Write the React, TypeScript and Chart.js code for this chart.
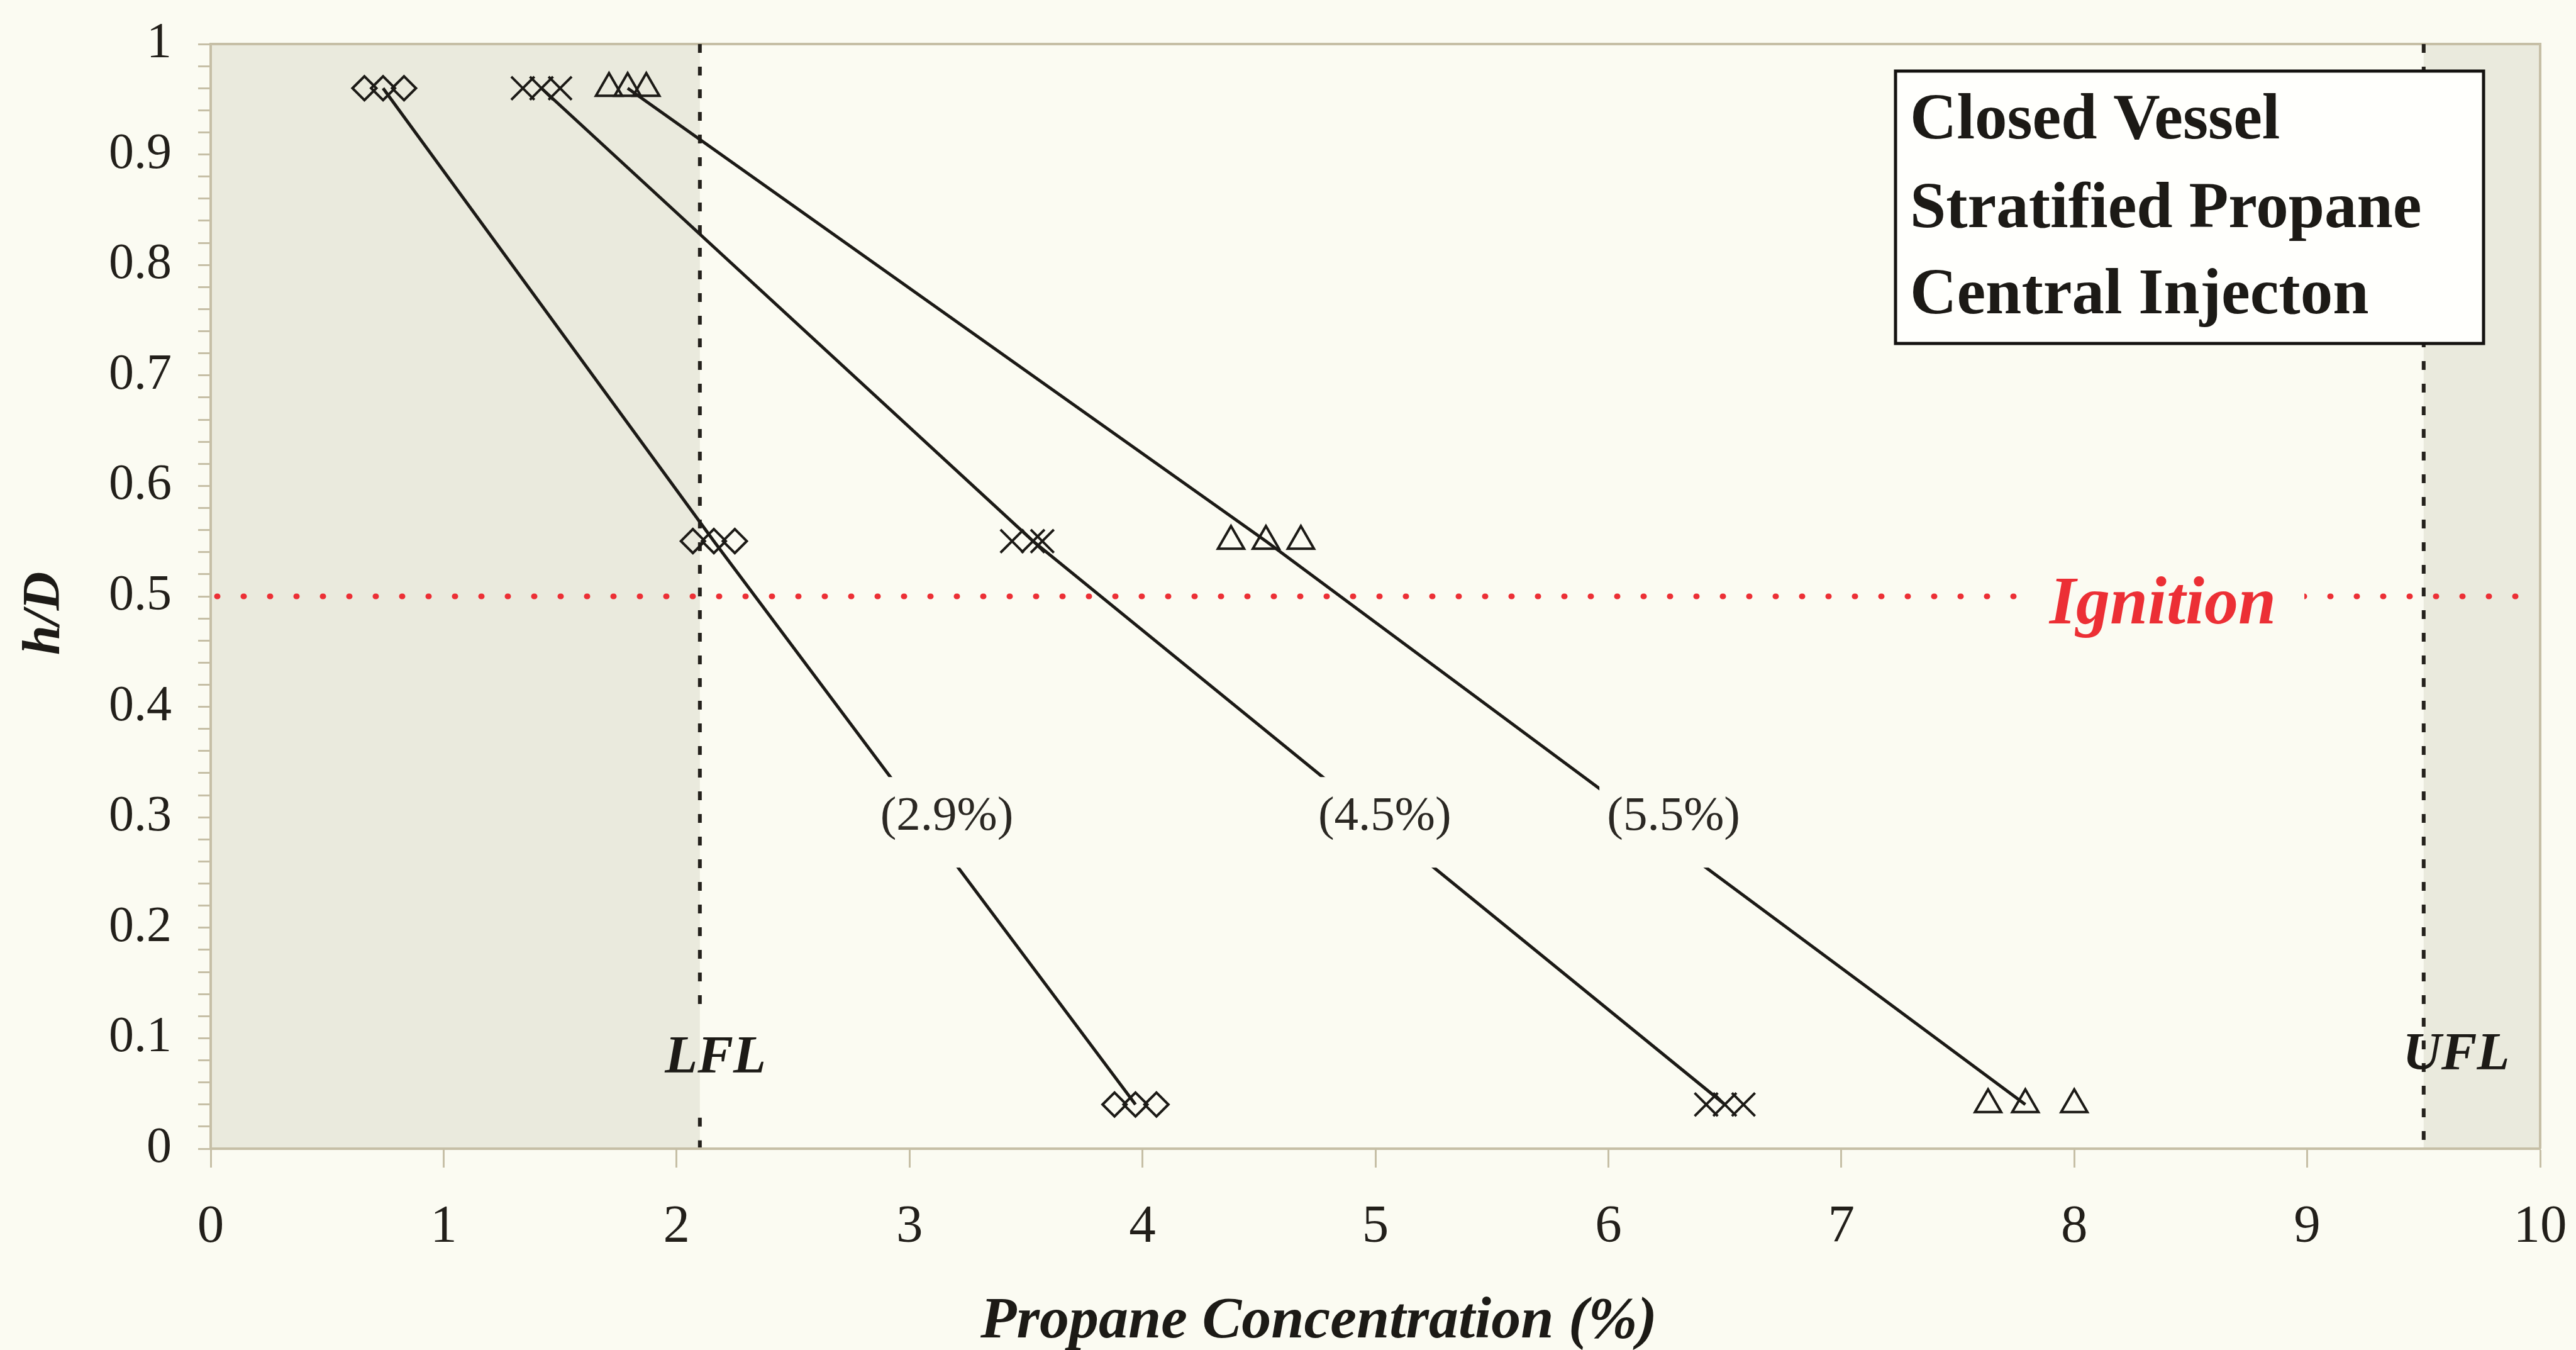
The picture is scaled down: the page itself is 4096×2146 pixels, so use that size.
import React, { useEffect, useRef } from 'react';
import { Chart, registerables } from 'chart.js';

Chart.register(...registerables);

// ---------- data ----------
const xTickValues = [0, 1, 2, 3, 4, 5, 6, 7, 8, 9, 10];
const yMajorTicks = [0, 0.1, 0.2, 0.3, 0.4, 0.5, 0.6, 0.7, 0.8, 0.9, 1];

// 2.9% mixture (diamonds)
const conc29 = [0.66, 0.74, 0.83, 2.07, 2.16, 2.25, 3.88, 3.97, 4.06];
const h29 = [0.96, 0.96, 0.96, 0.55, 0.55, 0.55, 0.04, 0.04, 0.04];
// 4.5% mixture (crosses)
const conc45 = [1.34, 1.42, 1.5, 3.44, 3.53, 3.57, 6.42, 6.5, 6.58];
const h45 = [0.96, 0.96, 0.96, 0.55, 0.55, 0.55, 0.04, 0.04, 0.04];
// 5.5% mixture (triangles)
const conc55 = [1.71, 1.79, 1.87, 4.38, 4.53, 4.68, 7.63, 7.79, 8.0];
const h55 = [0.96, 0.96, 0.96, 0.55, 0.55, 0.55, 0.04, 0.04, 0.04];

// lines through the mean values
const trendH = [0.96, 0.55, 0.04];
const trend29 = [0.74, 2.16, 3.97];
const trend45 = [1.42, 3.53, 6.5];
const trend55 = [1.79, 4.53, 7.79];

// in-line labels
const seriesLabels = ['(2.9%)', '(4.5%)', '(5.5%)'];
const seriesLabelX = [3.16, 5.04, 6.28];
const seriesLabelY = [0.3, 0.3, 0.3];

const LFL = 2.1;
const UFL = 9.5;
const IGNITION = 0.5;
const ignitionLabelX = 8.38;
const lflLabel = { text: 'LFL', x: 1.95, y: 0.069 };
const uflLabel = { text: 'UFL', x: 9.41, y: 0.072 };
const boxLines = ['Closed Vessel', 'Stratified Propane', 'Central Injecton'];
const xTitle = 'Propane Concentration (%)';
const yTitle = 'h/D';

// ---------- style ----------
const W = 4096;
const H = 2146;
const BG = '#fbfbf2';
const SHADE = '#eaeadd';
const AXIS = '#c6bfa6';
const INK = '#1c1a16';
const RED = '#ec2f35';
const SERIF = '"Liberation Serif", "Times New Roman", serif';

const pts = (xs: number[], ys: number[]) => xs.map((x, i) => ({ x, y: ys[i] }));

const zeroPad = (s: any) => {
  s.paddingLeft = 0;
  s.paddingRight = 0;
  s.paddingTop = 0;
  s.paddingBottom = 0;
};

const decorPlugin = {
  id: 'decor',
  beforeDraw(chart: any) {
    const { ctx, chartArea: a, scales } = chart;
    const x = scales.x;
    const y = scales.y;
    ctx.save();
    ctx.fillStyle = BG;
    ctx.fillRect(0, 0, chart.width, chart.height);

    const xl = x.getPixelForValue(LFL);
    const xu = x.getPixelForValue(UFL);
    ctx.fillStyle = SHADE;
    ctx.fillRect(a.left, a.top, xl - a.left, a.bottom - a.top);
    ctx.fillRect(xu, a.top, a.right - xu, a.bottom - a.top);

    // top and right frame
    ctx.strokeStyle = AXIS;
    ctx.lineWidth = 4;
    ctx.beginPath();
    ctx.moveTo(a.left, a.top);
    ctx.lineTo(a.right, a.top);
    ctx.lineTo(a.right, a.bottom);
    ctx.stroke();

    // ignition line
    const yi = y.getPixelForValue(IGNITION);
    ctx.strokeStyle = RED;
    ctx.lineWidth = 9;
    ctx.lineCap = 'round';
    ctx.setLineDash([1, 41]);
    ctx.beginPath();
    ctx.moveTo(a.left + 10, yi);
    ctx.lineTo(a.right, yi);
    ctx.stroke();

    // LFL / UFL dashed lines
    ctx.lineCap = 'butt';
    ctx.strokeStyle = '#24211c';
    ctx.lineWidth = 6;
    ctx.setLineDash([14, 22]);
    ctx.beginPath();
    ctx.moveTo(xl, a.top);
    ctx.lineTo(xl, y.getPixelForValue(0.131));
    ctx.stroke();
    ctx.beginPath();
    ctx.moveTo(xl, y.getPixelForValue(0.028));
    ctx.lineTo(xl, a.bottom);
    ctx.stroke();
    ctx.beginPath();
    ctx.moveTo(xu, a.top);
    ctx.lineTo(xu, a.bottom);
    ctx.stroke();
    ctx.restore();
  },
  afterDatasetsDraw(chart: any) {
    const { ctx, scales } = chart;
    const x = scales.x;
    const y = scales.y;
    ctx.save();
    // series labels with background boxes
    ctx.font = `77px ${SERIF}`;
    ctx.textAlign = 'center';
    ctx.textBaseline = 'middle';
    seriesLabels.forEach((t, i) => {
      const cx = x.getPixelForValue(seriesLabelX[i]);
      const cy = y.getPixelForValue(seriesLabelY[i]);
      ctx.fillStyle = BG;
      ctx.fillRect(cx - 118, cy - 64, 236, 144);
      ctx.fillStyle = '#2b2823';
      ctx.fillText(t, cx, cy);
    });

    // Ignition label
    const yi = y.getPixelForValue(IGNITION);
    const cxI = x.getPixelForValue(ignitionLabelX);
    ctx.font = `italic bold 108px ${SERIF}`;
    const wI = ctx.measureText('Ignition').width;
    ctx.fillStyle = BG;
    ctx.fillRect(cxI - wI / 2 - 45, yi - 20, wI + 90, 40);
    ctx.fillStyle = RED;
    ctx.textBaseline = 'alphabetic';
    ctx.fillText('Ignition', cxI, yi + 43);

    // LFL / UFL labels
    ctx.font = `italic bold 85px ${SERIF}`;
    ctx.textAlign = 'left';
    ctx.fillStyle = INK;
    ctx.fillText(lflLabel.text, x.getPixelForValue(lflLabel.x), y.getPixelForValue(lflLabel.y));
    ctx.fillText(uflLabel.text, x.getPixelForValue(uflLabel.x), y.getPixelForValue(uflLabel.y));
    ctx.restore();
  },
  afterDraw(chart: any) {
    const { ctx } = chart;
    ctx.save();
    // info box
    ctx.fillStyle = '#fffffc';
    ctx.fillRect(3014, 113, 935, 433);
    ctx.strokeStyle = '#141210';
    ctx.lineWidth = 5;
    ctx.strokeRect(3014, 113, 935, 433);
    ctx.fillStyle = INK;
    ctx.font = `bold 103px ${SERIF}`;
    ctx.textAlign = 'left';
    ctx.textBaseline = 'alphabetic';
    const baselines = [220, 361, 498];
    boxLines.forEach((t, i) => ctx.fillText(t, 3037, baselines[i]));

    // axis titles
    ctx.font = `italic bold 94px ${SERIF}`;
    ctx.textAlign = 'center';
    ctx.fillText(xTitle, 2097, 2126);

    ctx.translate(72, 975);
    ctx.rotate(-Math.PI / 2);
    ctx.font = `italic bold 85px ${SERIF}`;
    ctx.textBaseline = 'middle';
    ctx.fillText(yTitle, 0, 0);
    ctx.restore();
  },
};

const markerDs = (xs: number[], ys: number[], style: string, radius: number) => ({
  type: 'scatter' as const,
  data: pts(xs, ys),
  showLine: false,
  pointStyle: style,
  pointRadius: radius,
  pointHoverRadius: radius,
  pointBorderWidth: 4,
  pointBorderColor: INK,
  pointBackgroundColor: 'rgba(0,0,0,0)',
});

const lineDs = (xs: number[]) => ({
  type: 'line' as const,
  data: pts(xs, trendH),
  showLine: true,
  borderColor: INK,
  borderWidth: 5,
  pointRadius: 0,
  fill: false,
  tension: 0,
});

export default function App() {
  const ref = useRef<HTMLCanvasElement | null>(null);

  useEffect(() => {
    if (!ref.current) return;
    const chart = new Chart(ref.current, {
      type: 'scatter',
      data: {
        datasets: [
          lineDs(trend29),
          lineDs(trend45),
          lineDs(trend55),
          markerDs(conc29, h29, 'rectRot', 19),
          markerDs(conc45, h45, 'crossRot', 26),
          markerDs(conc55, h55, 'triangle', 24),
        ] as any,
      },
      options: {
        responsive: false,
        animation: false,
        devicePixelRatio: 1,
        events: [],
        layout: { padding: { top: 70, right: 57, left: 0, bottom: 0 } },
        plugins: { legend: { display: false }, tooltip: { enabled: false } },
        scales: {
          x: {
            type: 'linear',
            min: 0,
            max: 10,
            afterFit: (s: any) => {
              s.height = 320;
              zeroPad(s);
            },
            afterBuildTicks: (s: any) => {
              s.ticks = xTickValues.map((v) => ({ value: v }));
            },
            ticks: {
              stepSize: 1,
              autoSkip: false,
              maxRotation: 0,
              padding: 45,
              color: '#221f1a',
              font: { family: SERIF, size: 85 },
              callback: (v: any) => String(v),
            },
            grid: {
              display: true,
              drawOnChartArea: false,
              drawTicks: true,
              tickLength: 30,
              tickColor: AXIS,
              tickWidth: 3,
            },
            border: { display: true, color: AXIS, width: 4 },
          },
          y: {
            type: 'linear',
            min: 0,
            max: 1,
            afterFit: (s: any) => {
              s.width = 335;
              zeroPad(s);
            },
            ticks: {
              stepSize: 0.02,
              autoSkip: false,
              padding: 42,
              color: '#221f1a',
              font: { family: SERIF, size: 80 },
              callback: (v: any) => {
                const n = Number(v);
                const m = yMajorTicks.find((t) => Math.abs(t - n) < 1e-6);
                return m === undefined ? '' : String(m);
              },
            },
            grid: {
              display: true,
              drawOnChartArea: false,
              drawTicks: true,
              tickLength: 20,
              tickColor: AXIS,
              tickWidth: 3,
            },
            border: { display: true, color: AXIS, width: 4 },
          },
        },
      } as any,
      plugins: [decorPlugin],
    });
    return () => chart.destroy();
  }, []);

  return (
    <div style={{ position: 'fixed', left: 0, top: 0, width: W, height: H, background: BG }}>
      <canvas ref={ref} width={W} height={H} style={{ display: 'block', width: W, height: H }} />
    </div>
  );
}
